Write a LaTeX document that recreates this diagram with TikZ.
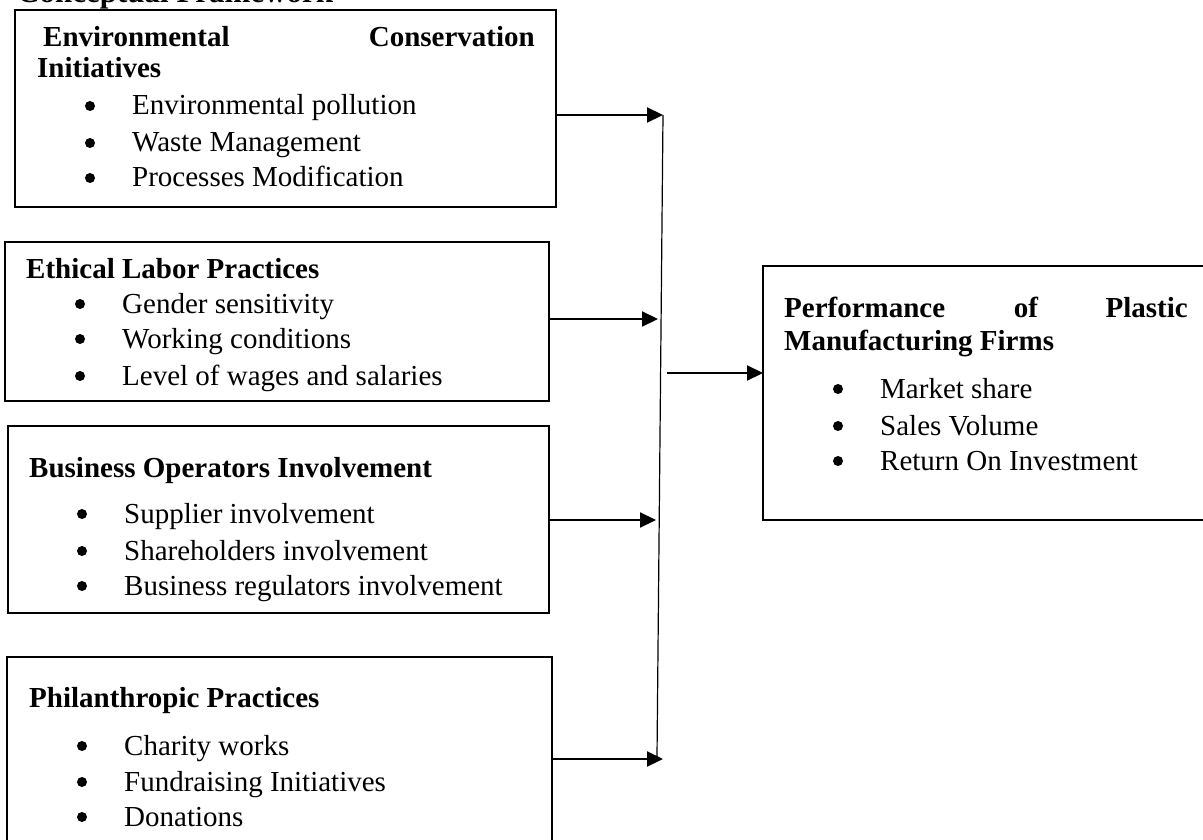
\documentclass[tikz,border=0pt]{standalone}
\usepackage{fontspec}
\setmainfont{Liberation Serif}
\usetikzlibrary{arrows.meta}

\begin{document}
\begin{tikzpicture}[
        x=1pt, y=-1pt,
        % Estilo para los recuadros de las variables
        varbox/.style={draw, line width=2pt, rectangle, anchor=north west, inner sep=0pt, outer sep=0pt},
        % Estilo para los títulos de cada variable
        boxtitle/.style={font=\fontsize{29}{35}\selectfont\bfseries, anchor=base west, inner sep=0pt},
        % Estilo para los indicadores
        indicator/.style={font=\fontsize{29}{35}\selectfont, anchor=base west, inner sep=0pt},
        % Estilo para las flechas
        link/.style={line width=2.2pt, -{Triangle[length=16pt, width=15pt]}}
    ]
        \useasboundingbox (0,0) rectangle (1203,840);

        % --- Título ---
        \node[font=\fontsize{31}{37}\selectfont\bfseries, anchor=base west, inner sep=0pt] (title) at (17,2.5) {Conceptual Framework};

        % --- Recuadros (variables independientes a la izquierda, dependiente a la derecha) ---
        \node[varbox, minimum width=541pt, minimum height=197pt] (envbox) at (15,10) {};
        \node[varbox, minimum width=544pt, minimum height=159pt] (laborbox) at (5,242) {};
        \node[varbox, minimum width=541pt, minimum height=187pt] (busbox) at (8,426) {};
        \node[varbox, minimum width=545pt, minimum height=220pt] (philbox) at (7,657) {};
        \node[varbox, minimum width=500pt, minimum height=254pt] (perfbox) at (763,266) {};

        % --- Textos del primer recuadro ---
        \node[boxtitle] (envA) at (43,47) {Environmental};
        \node[boxtitle, anchor=base east] (envB) at (535,47) {Conservation};
        \node[boxtitle] (envC) at (37,78) {Initiatives};
        \node[indicator] (env1) at (132,115) {Environmental pollution};
        \node[indicator] (env2) at (132,152) {Waste Management};
        \node[indicator] (env3) at (132,187) {Processes Modification};

        % --- Textos del segundo recuadro ---
        \node[boxtitle] (labA) at (26,278) {Ethical Labor Practices};
        \node[indicator] (lab1) at (122,313) {Gender sensitivity};
        \node[indicator] (lab2) at (122,348) {Working conditions};
        \node[indicator] (lab3) at (122,385) {Level of wages and salaries};

        % --- Textos del tercer recuadro ---
        \node[boxtitle] (busA) at (29,477) {Business Operators Involvement};
        \node[indicator] (bus1) at (124,523) {Supplier involvement};
        \node[indicator] (bus2) at (124,560) {Shareholders involvement};
        \node[indicator] (bus3) at (124,595) {Business regulators involvement};

        % --- Textos del cuarto recuadro ---
        \node[boxtitle] (philA) at (29,707) {Philanthropic Practices};
        \node[indicator] (phil1) at (124,755) {Charity works};
        \node[indicator] (phil2) at (124,791) {Fundraising Initiatives};
        \node[indicator] (phil3) at (124,826) {Donations};

        % --- Textos del recuadro de desempeño ---
        \node[boxtitle] (perfA) at (784,317) {Performance};
        \node[boxtitle, anchor=base] (perfB) at (1026,317) {of};
        \node[boxtitle, anchor=base east] (perfC) at (1188,317) {Plastic};
        \node[boxtitle] (perfD) at (784,350) {Manufacturing Firms};
        \node[indicator] (perf1) at (880,398) {Market share};
        \node[indicator] (perf2) at (880,435) {Sales Volume};
        \node[indicator] (perf3) at (880,470) {Return On Investment};

        % Viñetas delante de cada indicador
        \foreach \n in {env1,env2,env3,lab1,lab2,lab3,bus1,bus2,bus3,phil1,phil2,phil3,perf1,perf2,perf3}
            \fill ([xshift=-42pt, yshift=9pt]\n.base west) circle (5pt);

        % --- Línea colectora y flechas ---
        \coordinate (bustop) at (663,115);
        \coordinate (busin2) at (658,319);
        \coordinate (busin3) at (656,520);
        \coordinate (busin4) at (663,759);
        \coordinate (busbot) at (657,757);
        \coordinate (busout) at (667,373);

        \draw[line width=1.2pt] (bustop) -- (busbot);

        \draw[link] (envbox.east |- bustop) -- (bustop);
        \draw[link] (laborbox.east |- busin2) -- (busin2);
        \draw[link] (busbox.east |- busin3) -- (busin3);
        \draw[link] (philbox.east |- busin4) -- (busin4);
        \draw[link] (busout) -- (busout -| perfbox.west);

    \end{tikzpicture}
\end{document}
